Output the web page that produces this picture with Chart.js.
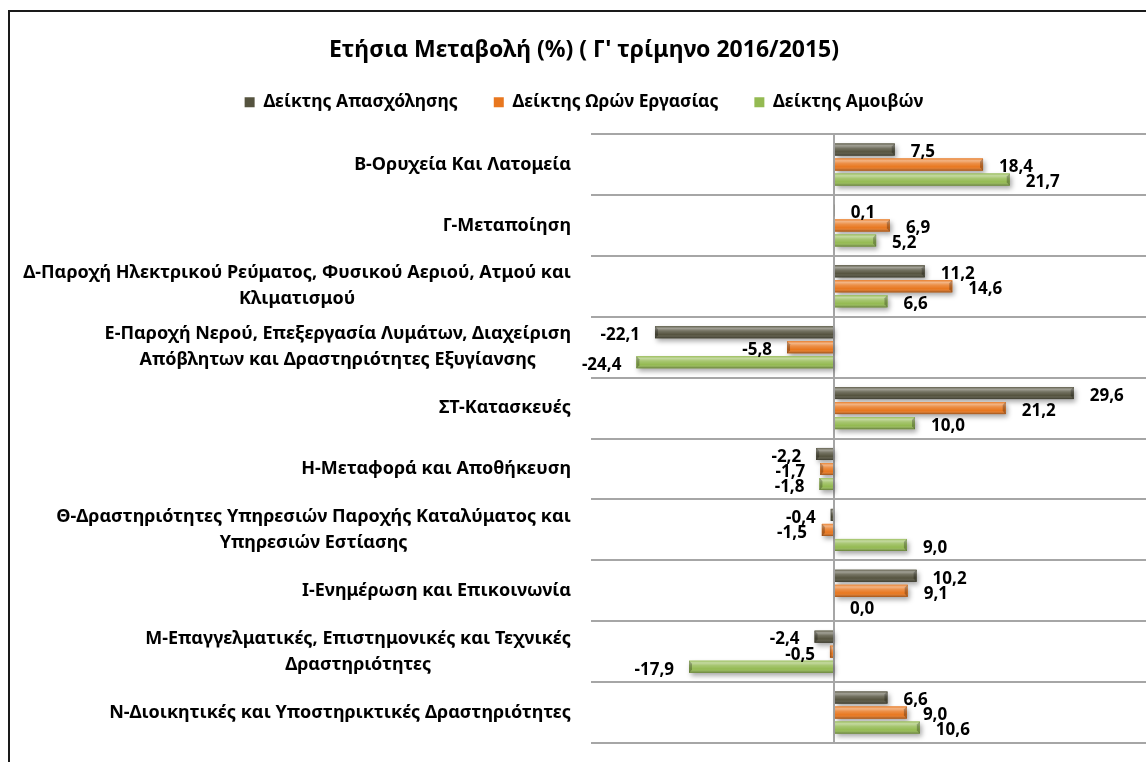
<!DOCTYPE html>
<html><head><meta charset="utf-8">
<script src="https://cdn.jsdelivr.net/npm/chart.js@4.4.1/dist/chart.umd.min.js"></script>
<style>
html,body{margin:0;padding:0;background:#fff;overflow:hidden;width:1146px;height:762px}
#frame{position:absolute;left:8px;top:10px;width:1156px;height:790px;border:2px solid #1a1a1a}
canvas{display:block}
</style></head><body>
<div id="frame"><canvas id="c" width="1156" height="790"></canvas></div>
<script>
const categories = [
  ["Β-Ορυχεία Και Λατομεία"],
  ["Γ-Μεταποίηση"],
  ["Δ-Παροχή Ηλεκτρικού Ρεύματος, Φυσικού Αεριού, Ατμού και", "Κλιματισμού"],
  ["Ε-Παροχή Νερού, Επεξεργασία Λυμάτων, Διαχείριση", "Απόβλητων και Δραστηριότητες Εξυγίανσης"],
  ["ΣΤ-Κατασκευές"],
  ["Η-Μεταφορά και Αποθήκευση"],
  ["Θ-Δραστηριότητες Υπηρεσιών Παροχής Καταλύματος και", "Υπηρεσιών Εστίασης"],
  ["Ι-Ενημέρωση και Επικοινωνία"],
  ["Μ-Επαγγελματικές, Επιστημονικές και Τεχνικές", "Δραστηριότητες"],
  ["Ν-Διοικητικές και Υποστηρικτικές Δραστηριότητες"]
];
const seriesNames = ["Δείκτης Απασχόλησης", "Δείκτης Ωρών Εργασίας", "Δείκτης Αμοιβών"];
const employment = [7.5, 0.1, 11.2, -22.1, 29.6, -2.2, -0.4, 10.2, -2.4, 6.6];
const hours      = [18.4, 6.9, 14.6, -5.8, 21.2, -1.7, -1.5, 9.1, -0.5, 9.0];
const wages      = [21.7, 5.2, 6.6, -24.4, 10.0, -1.8, 9.0, 0.0, -17.9, 10.6];
const titleText = "Ετήσια Μεταβολή (%) ( Γ' τρίμηνο 2016/2015)";

const FONT = '"Noto Sans", "Open Sans", sans-serif';
const colors = ['#55533f', '#e8771f', '#94ba52'];

const shadowPlugin = {
  id: 'barShadow',
  beforeDatasetsDraw(chart) {
    const ctx = chart.ctx;
    ctx.save();
    chart.data.datasets.forEach((ds, i) => {
      chart.getDatasetMeta(i).data.forEach(el => {
        const p = el.getProps(['x', 'y', 'base', 'height'], true);
        const l = Math.min(p.x, p.base), r = Math.max(p.x, p.base);
        if (r - l < 0.5) return;
        ctx.shadowColor = 'rgba(0,0,0,0.35)';
        ctx.shadowBlur = 5;
        ctx.shadowOffsetX = 2;
        ctx.shadowOffsetY = 3;
        ctx.fillStyle = colors[i];
        ctx.fillRect(l, p.y - p.height / 2, r - l, p.height);
      });
    });
    ctx.restore();
  },
  afterDatasetsDraw(chart) {
    const ctx = chart.ctx;
    ctx.save();
    chart.data.datasets.forEach((ds, i) => {
      chart.getDatasetMeta(i).data.forEach(el => {
        const p = el.getProps(['x', 'y', 'base', 'height'], true);
        const l = Math.min(p.x, p.base), r = Math.max(p.x, p.base);
        if (r - l < 0.5) return;
        const t = p.y - p.height / 2, h = p.height;
        const g = ctx.createLinearGradient(0, t, 0, t + h);
        g.addColorStop(0, 'rgba(255,255,255,0.10)');
        g.addColorStop(0.18, 'rgba(255,255,255,0.45)');
        g.addColorStop(0.4, 'rgba(255,255,255,0.18)');
        g.addColorStop(0.7, 'rgba(255,255,255,0.0)');
        g.addColorStop(1, 'rgba(0,0,0,0.35)');
        ctx.fillStyle = g;
        ctx.fillRect(l, t, r - l, h);
        const c = Math.min(3, (r - l) / 2);
        ctx.fillStyle = 'rgba(0,0,0,0.25)';
        if (p.x >= p.base) {
          ctx.beginPath(); ctx.moveTo(r, t); ctx.lineTo(r - c, t + c); ctx.lineTo(r - c, t + h - c); ctx.lineTo(r, t + h); ctx.closePath(); ctx.fill();
        } else {
          ctx.beginPath(); ctx.moveTo(l, t); ctx.lineTo(l + c, t + c); ctx.lineTo(l + c, t + h - c); ctx.lineTo(l, t + h); ctx.closePath(); ctx.fill();
        }
      });
    });
    ctx.restore();
  }
};

const valueLabelPlugin = {
  id: 'valueLabels',
  afterDatasetsDraw(chart) {
    const ctx = chart.ctx;
    ctx.save();
    ctx.font = 'bold 17px ' + FONT;
    ctx.fillStyle = '#000';
    ctx.textBaseline = 'middle';
    chart.data.datasets.forEach((ds, i) => {
      chart.getDatasetMeta(i).data.forEach((el, j) => {
        const v = ds.data[j];
        const txt = v.toFixed(1).replace('.', ',');
        const neg = v < 0;
        ctx.textAlign = neg ? 'right' : 'left';
        ctx.fillText(txt, el.x + (neg ? -15 : 16), el.y + 3);
      });
    });
    ctx.restore();
  }
};

const catLabelPlugin = {
  id: 'catLabels',
  afterDraw(chart) {
    const ctx = chart.ctx;
    const ys = chart.scales.y;
    ctx.save();
    ctx.font = 'bold 18px ' + FONT;
    ctx.fillStyle = '#000';
    ctx.textBaseline = 'middle';
    ctx.textAlign = 'center';
    const rightEdge = 561;
    const lh = 26;
    categories.forEach((lines, i) => {
      const yc = ys.getPixelForTick(i);
      const w = Math.max(...lines.map(s => ctx.measureText(s).width));
      const cx = rightEdge - w / 2;
      const y0 = yc - (lines.length - 1) * lh / 2;
      lines.forEach((s, k) => ctx.fillText(s, cx, y0 + k * lh));
    });
    ctx.restore();
  }
};

new Chart(document.getElementById('c'), {
  type: 'bar',
  data: {
    labels: categories,
    datasets: [
      { label: seriesNames[0], data: employment, backgroundColor: colors[0], borderWidth: 0 },
      { label: seriesNames[1], data: hours, backgroundColor: colors[1], borderWidth: 0 },
      { label: seriesNames[2], data: wages, backgroundColor: colors[2], borderWidth: 0 }
    ]
  },
  plugins: [shadowPlugin, valueLabelPlugin, catLabelPlugin],
  options: {
    indexAxis: 'y',
    responsive: false,
    animation: false,
    events: [],
    categoryPercentage: 0.74,
    barPercentage: 0.8,
    layout: { padding: { left: 0, right: 8, top: 0, bottom: 59 } },
    plugins: {
      tooltip: { enabled: false },
      title: {
        display: true,
        text: titleText,
        color: '#000',
        font: { family: FONT, size: 23, weight: 'bold' },
        padding: { top: 25, bottom: -7 }
      },
      legend: {
        display: true,
        position: 'top',
        labels: {
          color: '#000',
          font: { family: FONT, size: 17.5, weight: 'bold' },
          boxWidth: 10,
          boxHeight: 10,
          padding: 36
        }
      }
    },
    scales: {
      x: {
        position: 'top',
        min: -30, max: 40,
        ticks: { display: false, stepSize: 10 },
        border: { display: false },
        grid: {
          drawTicks: false,
          lineWidth: 2,
          color: c => (c.tick && c.tick.value === 0) ? '#a6a6a6' : 'rgba(0,0,0,0)'
        },
        afterFit: s => { s.height = 13; }
      },
      y: {
        ticks: { display: false },
        border: { display: false },
        grid: { drawTicks: false, lineWidth: 2, color: '#a6a6a6', offset: true },
        afterFit: s => { s.width = 581; }
      }
    }
  }
});
</script>
</body></html>
